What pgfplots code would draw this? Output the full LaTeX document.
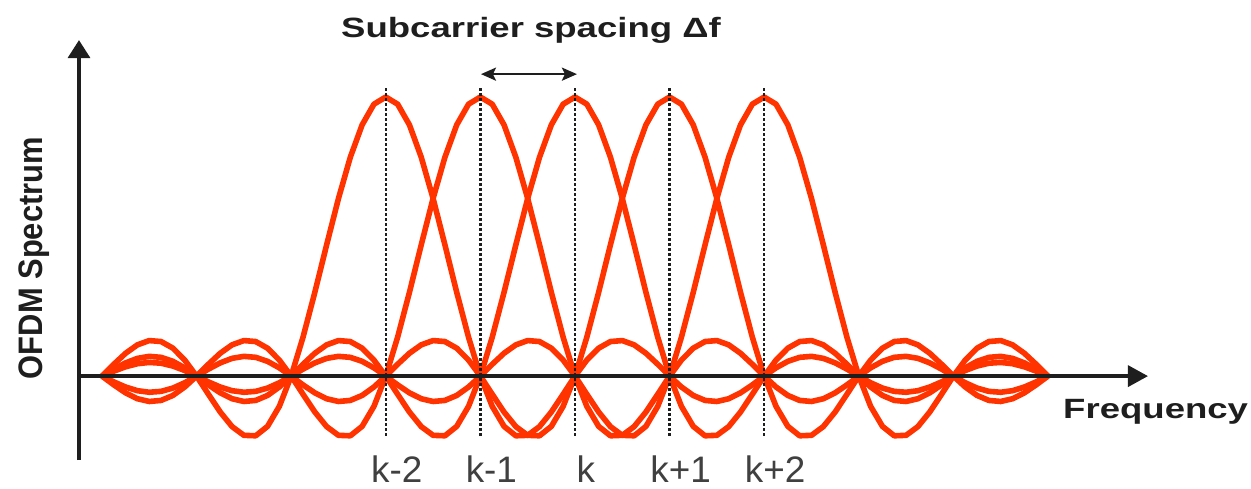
\documentclass[border=0pt]{standalone}
\usepackage{fontspec}
\setmainfont{Liberation Sans}
\newfontfamily\widesans[FakeStretch=1.31]{Liberation Sans}
\usepackage{graphicx}
\usepackage{pgfplots}
\usepackage{pgfplotstable}
\pgfplotsset{compat=1.18}
\usetikzlibrary{arrows.meta}

\definecolor{carrier}{RGB}{255,51,0}
\definecolor{ink}{RGB}{30,30,30}
\definecolor{labelgray}{RGB}{64,64,64}

% sin(pi u)/(pi u) for the five subcarriers k-2 ... k+2 (columns a ... e)
\pgfplotstableread{
x       a        b        c        d        e
-5.000  0        0        0        0        0
-4.875  0.04237 -0.03144  0.02499 -0.02073  0.01772
-4.750  0.08185 -0.06002  0.04739 -0.03914  0.03335
-4.625  0.11203 -0.08113  0.06358 -0.05228  0.04439
-4.500  0.12732 -0.09095  0.07074 -0.05787  0.04897
-4.375  0.12382 -0.08713  0.06722 -0.05471  0.04613
-4.250  0.10004 -0.06926  0.05296 -0.04287  0.03601
-4.125  0.05732 -0.03898  0.02953 -0.02377  0.01989
-4.000  0        0        0        0        0
-3.875 -0.06497  0.04237 -0.03144  0.02499 -0.02073
-3.750 -0.12862  0.08185 -0.06002  0.04739 -0.03914
-3.625 -0.18097  0.11203 -0.08113  0.06358 -0.05228
-3.500 -0.21221  0.12732 -0.09095  0.07074 -0.05787
-3.375 -0.21388  0.12382 -0.08713  0.06722 -0.05471
-3.250 -0.18006  0.10004 -0.06926  0.05296 -0.04287
-3.125 -0.10828  0.05732 -0.03898  0.02953 -0.02377
-3.000  0        0        0        0        0
-2.875  0.13921 -0.06497  0.04237 -0.03144  0.02499
-2.750  0.30011 -0.12862  0.08185 -0.06002  0.04739
-2.625  0.47053 -0.18097  0.11203 -0.08113  0.06358
-2.500  0.63662 -0.21221  0.12732 -0.09095  0.07074
-2.375  0.78421 -0.21388  0.12382 -0.08713  0.06722
-2.250  0.90032 -0.18006  0.10004 -0.06926  0.05296
-2.125  0.97450 -0.10828  0.05732 -0.03898  0.02953
-2.000  1        0        0        0        0
-1.875  0.97450  0.13921 -0.06497  0.04237 -0.03144
-1.750  0.90032  0.30011 -0.12862  0.08185 -0.06002
-1.625  0.78421  0.47053 -0.18097  0.11203 -0.08113
-1.500  0.63662  0.63662 -0.21221  0.12732 -0.09095
-1.375  0.47053  0.78421 -0.21388  0.12382 -0.08713
-1.250  0.30011  0.90032 -0.18006  0.10004 -0.06926
-1.125  0.13921  0.97450 -0.10828  0.05732 -0.03898
-1.000  0        1        0        0        0
-0.875 -0.10828  0.97450  0.13921 -0.06497  0.04237
-0.750 -0.18006  0.90032  0.30011 -0.12862  0.08185
-0.625 -0.21388  0.78421  0.47053 -0.18097  0.11203
-0.500 -0.21221  0.63662  0.63662 -0.21221  0.12732
-0.375 -0.18097  0.47053  0.78421 -0.21388  0.12382
-0.250 -0.12862  0.30011  0.90032 -0.18006  0.10004
-0.125 -0.06497  0.13921  0.97450 -0.10828  0.05732
 0.000  0        0        1        0        0
 0.125  0.05732 -0.10828  0.97450  0.13921 -0.06497
 0.250  0.10004 -0.18006  0.90032  0.30011 -0.12862
 0.375  0.12382 -0.21388  0.78421  0.47053 -0.18097
 0.500  0.12732 -0.21221  0.63662  0.63662 -0.21221
 0.625  0.11203 -0.18097  0.47053  0.78421 -0.21388
 0.750  0.08185 -0.12862  0.30011  0.90032 -0.18006
 0.875  0.04237 -0.06497  0.13921  0.97450 -0.10828
 1.000  0        0        0        1        0
 1.125 -0.03898  0.05732 -0.10828  0.97450  0.13921
 1.250 -0.06926  0.10004 -0.18006  0.90032  0.30011
 1.375 -0.08713  0.12382 -0.21388  0.78421  0.47053
 1.500 -0.09095  0.12732 -0.21221  0.63662  0.63662
 1.625 -0.08113  0.11203 -0.18097  0.47053  0.78421
 1.750 -0.06002  0.08185 -0.12862  0.30011  0.90032
 1.875 -0.03144  0.04237 -0.06497  0.13921  0.97450
 2.000  0        0        0        0        1
 2.125  0.02953 -0.03898  0.05732 -0.10828  0.97450
 2.250  0.05296 -0.06926  0.10004 -0.18006  0.90032
 2.375  0.06722 -0.08713  0.12382 -0.21388  0.78421
 2.500  0.07074 -0.09095  0.12732 -0.21221  0.63662
 2.625  0.06358 -0.08113  0.11203 -0.18097  0.47053
 2.750  0.04739 -0.06002  0.08185 -0.12862  0.30011
 2.875  0.02499 -0.03144  0.04237 -0.06497  0.13921
 3.000  0        0        0        0        0
 3.125 -0.02377  0.02953 -0.03898  0.05732 -0.10828
 3.250 -0.04287  0.05296 -0.06926  0.10004 -0.18006
 3.375 -0.05471  0.06722 -0.08713  0.12382 -0.21388
 3.500 -0.05787  0.07074 -0.09095  0.12732 -0.21221
 3.625 -0.05228  0.06358 -0.08113  0.11203 -0.18097
 3.750 -0.03914  0.04739 -0.06002  0.08185 -0.12862
 3.875 -0.02073  0.02499 -0.03144  0.04237 -0.06497
 4.000  0        0        0        0        0
 4.125  0.01989 -0.02377  0.02953 -0.03898  0.05732
 4.250  0.03601 -0.04287  0.05296 -0.06926  0.10004
 4.375  0.04613 -0.05471  0.06722 -0.08713  0.12382
 4.500  0.04897 -0.05787  0.07074 -0.09095  0.12732
 4.625  0.04439 -0.05228  0.06358 -0.08113  0.11203
 4.750  0.03335 -0.03914  0.04739 -0.06002  0.08185
 4.875  0.01772 -0.02073  0.02499 -0.03144  0.04237
 5.000  0        0        0        0        0
}\ofdm

\begin{document}
\begin{tikzpicture}
\begin{axis}[
  scale only axis,
  width=1069bp, height=420bp,
  xmin=-5.243, xmax=6.057,
  ymin=-0.301, ymax=1.204,
  axis x line=middle, axis y line=left,
  xtick=\empty, ytick=\empty,
  clip=false, axis on top,
  axis line style={line width=3.4bp, draw=ink},
  every inner x axis line/.append style={-{Triangle[length=20bp,width=21bp]}},
  every outer y axis line/.append style={-{Triangle[length=18bp,width=22bp]}},
  x axis line style={-{Triangle[length=20bp,width=21bp]}},
  y axis line style={-{Triangle[length=18bp,width=22bp]}},
  subcarrier/.style={line width=5.6bp, draw=carrier, no markers, line join=round},
]
  \addplot[subcarrier] table[x=x, y=a] {\ofdm};
  \addplot[subcarrier] table[x=x, y=b] {\ofdm};
  \addplot[subcarrier] table[x=x, y=c] {\ofdm};
  \addplot[subcarrier] table[x=x, y=d] {\ofdm};
  \addplot[subcarrier] table[x=x, y=e] {\ofdm};

  % subcarrier centre markers
  \foreach \k in {-2,-1,0,1,2} {
    \edef\temp{\noexpand\draw[ink, line width=2.3bp, dash pattern=on 2.5bp off 2.5bp]
      (axis cs:\k,1.032) -- (axis cs:\k,-0.219);}
    \temp
  }

  % spacing arrow
  \draw[ink, line width=2.5bp, {Stealth[length=15bp,width=13bp,inset=3bp]}-{Stealth[length=15bp,width=13bp,inset=3bp]}]
    (axis cs:-0.994,1.082) -- (axis cs:0.021,1.082);

  \node[anchor=base, inner sep=0pt, text=ink,
        font=\fontsize{28}{34}\selectfont\widesans\bfseries]
    at (axis cs:-0.465,1.215) {Subcarrier spacing Δf};

  \node[anchor=base west, inner sep=0pt, text=ink,
        font=\fontsize{28}{34}\selectfont\widesans\bfseries]
    at (axis cs:5.159,-0.1505) {Frequency};

  \node[anchor=base, inner sep=0pt, rotate=90, text=ink,
        font=\fontsize{31}{36}\selectfont\bfseries]
    at (axis cs:-5.634,0.423) {\scalebox{1}[1.1]{OFDM Spectrum}};

  % subcarrier index labels
  \foreach \k/\lab in {-2/k-2,-1/k-1,0/k,1/k+1,2/k+2} {
    \edef\temp{\noexpand\node[anchor=base, inner sep=0pt, text=labelgray,
        font=\noexpand\fontsize{37}{44}\noexpand\selectfont]
      at (axis cs:\k+0.116,-0.380) {\lab};}
    \temp
  }

  \coordinate (bbsw) at (axis cs:-6.078,-0.4014);
  \coordinate (bbne) at (axis cs:7.146,1.3477);
\end{axis}
\pgfresetboundingbox
\useasboundingbox (bbsw) rectangle (bbne);
\end{tikzpicture}
\end{document}
